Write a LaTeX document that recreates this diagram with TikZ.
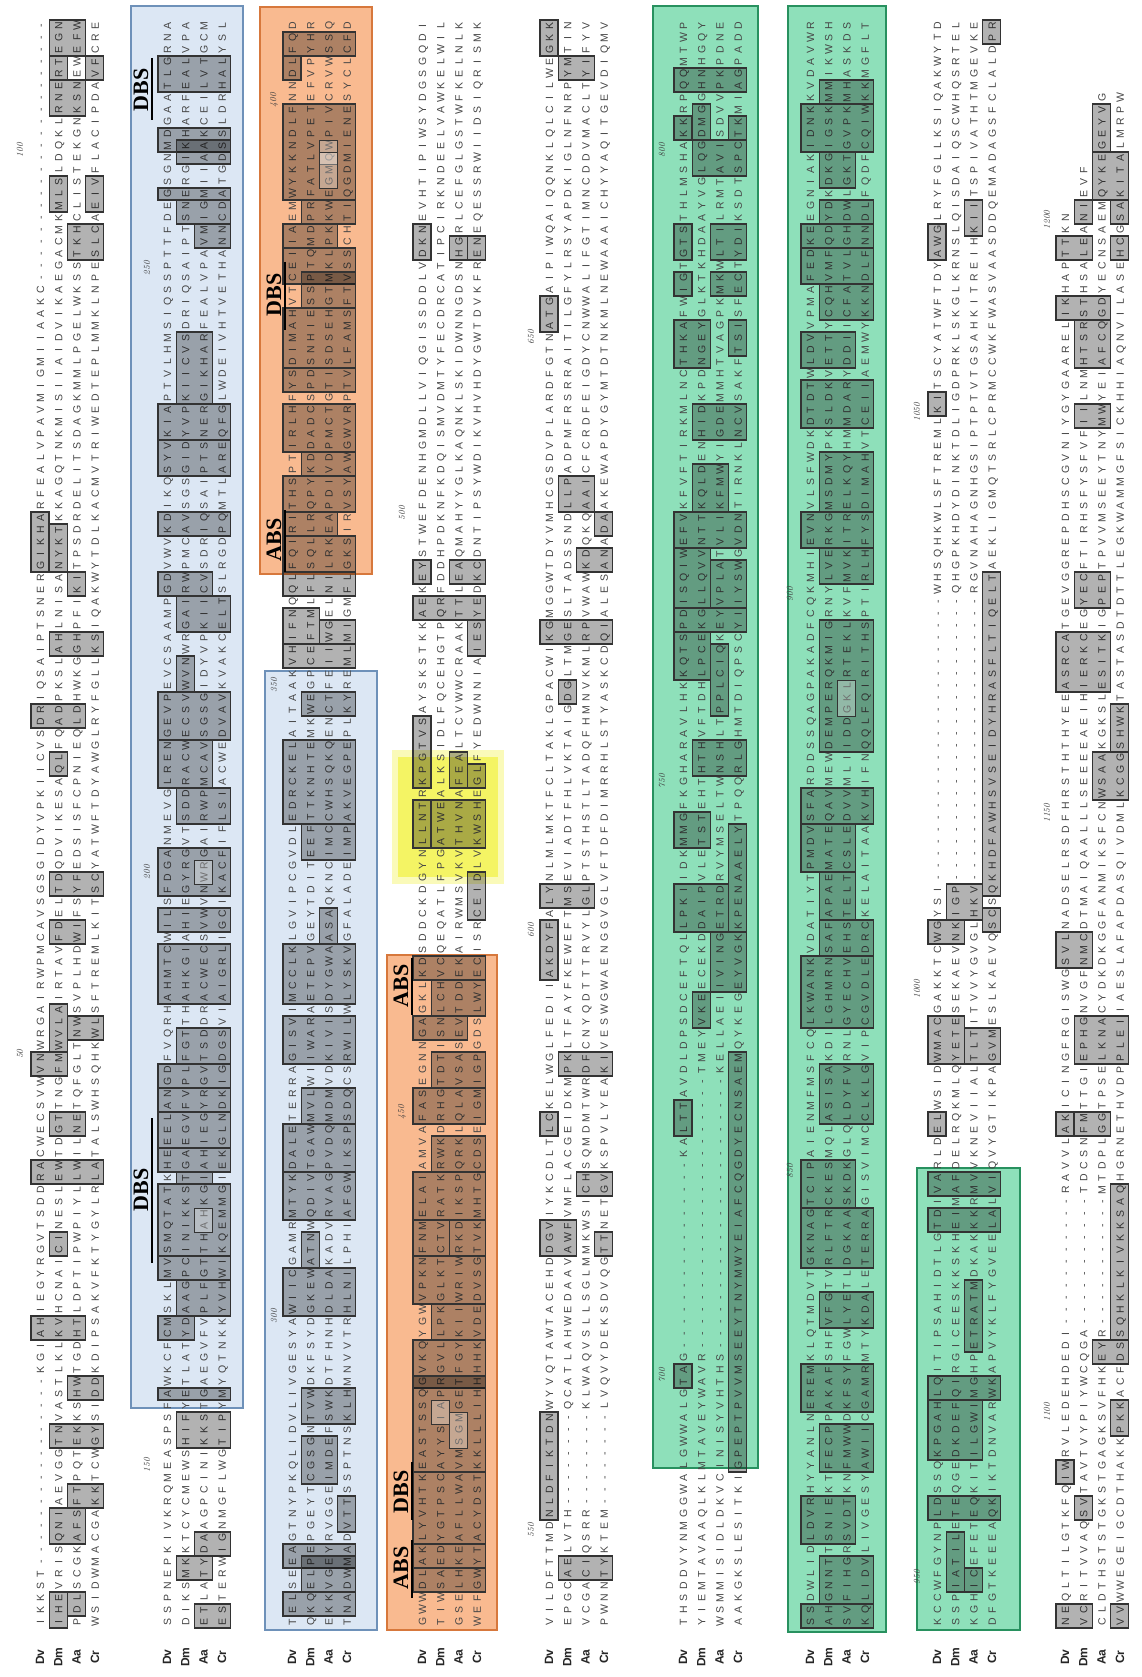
\documentclass[tikz,border=0pt]{standalone}
% NOTE: the residue letters of the alignment are unreadable at the resolution of the
% reference, so every sequence row below is PLACEHOLDER text (pseudo-random amino-acid
% letters from a fixed-seed generator), not a transcription of the real sequences.
% Layout, gaps, boxes, coloured regions, labels and position numbers follow the reference.
\usepackage{fontspec}
\newfontfamily\seqfont{Liberation Sans}
\newfontfamily\annfont{Liberation Serif}
\definecolor{bluefill}{RGB}{220,231,244}
\definecolor{blueline}{RGB}{110,145,185}
\definecolor{orgfill}{RGB}{249,186,144}
\definecolor{orgline}{RGB}{215,120,60}
\definecolor{grnfill}{RGB}{142,224,186}
\definecolor{grnline}{RGB}{40,145,95}
\definecolor{yelfill}{RGB}{244,244,100}
\definecolor{seqtext}{RGB}{70,70,70}

\newcount\lcg
\newcount\kk
\newif\ifgap
\def\nextrnd{\global\lcg=\numexpr\lcg*171-30269*((\lcg*171-15134)/30269)\relax}
\def\aaof#1{\ifcase#1 A\or C\or D\or E\or F\or G\or H\or I\or K\or L\or M\or N\or P\or Q\or R\or S\or T\or V\or W\or Y\or L\or A\or S\or E\or K\or G\or V\or I\or T\or D\or L\else L\fi}
% #1 name, #2 block x, #3 row, #4 seed, #5 last column, #6-#7 gap 1, #8-#9 gap 2
\newcommand\seqrow[9]{%
  \global\lcg=#4\relax
  \nextrnd\nextrnd
  \gdef\rowtxt{}%
  \kk=0
  \loop
    \nextrnd
    \edef\idx{\the\numexpr\lcg-30*((\lcg-15)/30)\relax}%
    \ifnum\kk>#5\relax
      \xdef\rowtxt{\rowtxt\hbox to 12pt{\hss}}%
    \else
      \gapfalse
      \ifnum\kk<#6\relax\else\ifnum\kk>#7\relax\else\gaptrue\fi\fi
      \ifnum\kk<#8\relax\else\ifnum\kk>#9\relax\else\gaptrue\fi\fi
      \ifgap
        \xdef\rowtxt{\rowtxt\hbox to 12pt{\hss-\hss}}%
      \else
        \xdef\rowtxt{\rowtxt\hbox to 12pt{\hss\aaof{\idx}\hss}}%
      \fi
    \fi
    \advance\kk by 1
  \ifnum\kk<134 \repeat
  \node[seq] (#1) at ({#2+18.3*#3},1628) {\rowtxt};%
}
% box: #2 block x, #3 first row, #4 last row, #5 top y, #6 bottom y (reference units)
\newcommand\bx[6][bxs]{%
  \pgfmathtruncatemacro\ktop{round((1622-1.0693*#5)/12)}%
  \pgfmathtruncatemacro\kbot{round((1622-1.0693*#6)/12)}%
  \draw[#1] ({#2+18.3*#3-9},{1616-12*\ktop}) rectangle ({#2+18.3*#4+9},{1628-12*\kbot});%
}
\newcommand\boxes[2]{\foreach \pa/\pb/\pc/\pd in {#2}{\bx{#1}{\pa}{\pb}{\pc}{\pd}}}
\newcommand\iboxes[2]{\foreach \pa/\pb/\pc/\pd in {#2}{\bx[ibxs]{#1}{\pa}{\pb}{\pc}{\pd}}}

\tikzset{
 seq/.style={rotate=90,anchor=west,inner sep=0pt,text height=8pt,text depth=0pt,font=\seqfont\fontsize{10.5}{13}\selectfont,text=seqtext},
 bxs/.style={draw=black!80,line width=1.1pt,fill=black,fill opacity=0.3},
 ibxs/.style={draw=black!80,line width=0.9pt,fill=white,fill opacity=0.3},
 lab/.style={rotate=90,inner sep=0pt,font=\seqfont\bfseries\fontsize{12}{12}\selectfont,text=black!85},
 num/.style={rotate=90,inner sep=0pt,font=\itshape\fontsize{9}{9}\selectfont,text=black!75},
 ann/.style={rotate=90,inner sep=0pt,font=\annfont\bfseries\fontsize{22}{22}\selectfont},
 annbar/.style={line width=2pt},
 region/.style={line width=1.3pt}
}

\begin{document}
\begin{tikzpicture}[x=1pt,y=-1pt]
\useasboundingbox (0,0) rectangle (1142,1677);
\fill[white] (0,0) rectangle (1142,1677);

% coloured regions
\filldraw[region,fill=bluefill,draw=blueline] (131,6) rectangle (243,1408);
\filldraw[region,fill=orgfill,draw=orgline] (260,7) rectangle (372,574);
\filldraw[region,fill=bluefill,draw=blueline] (265,671) rectangle (377,1630);
\filldraw[region,fill=orgfill,draw=orgline] (387,955) rectangle (497,1630);
\filldraw[region,fill=grnfill,draw=grnline] (653,6) rectangle (758,1468);
\filldraw[region,fill=grnfill,draw=grnline] (788,6) rectangle (886,1632);
\filldraw[region,fill=grnfill,draw=grnline] (917,1168) rectangle (1020,1630);
\fill[yelfill,opacity=0.45] (392,750) rectangle (504,884);
\fill[yelfill] (398,757) rectangle (498,877);

% sequence rows (placeholder letters, see note at top)
\seqrow{s1dv}{40}{0}{1201}{133}{5}{20}{112}{133}
\seqrow{s1dm}{40}{1}{3407}{133}{-1}{-1}{-1}{-1}
\seqrow{s1aa}{40}{2}{5113}{133}{-1}{-1}{-1}{-1}
\seqrow{s1cr}{40}{3}{7919}{133}{-1}{-1}{-1}{-1}
\seqrow{s2dv}{167}{0}{2203}{133}{-1}{-1}{-1}{-1}
\seqrow{s2dm}{167}{1}{4409}{133}{-1}{-1}{-1}{-1}
\seqrow{s2aa}{167}{2}{6607}{133}{-1}{-1}{-1}{-1}
\seqrow{s2cr}{167}{3}{8821}{133}{-1}{-1}{-1}{-1}
\seqrow{s3dv}{292}{0}{1303}{133}{-1}{-1}{-1}{-1}
\seqrow{s3dm}{292}{1}{2909}{133}{-1}{-1}{-1}{-1}
\seqrow{s3aa}{292}{2}{4703}{133}{-1}{-1}{-1}{-1}
\seqrow{s3cr}{292}{3}{9907}{133}{-1}{-1}{-1}{-1}
\seqrow{s4dv}{422}{0}{1409}{133}{-1}{-1}{-1}{-1}
\seqrow{s4dm}{422}{1}{3517}{133}{-1}{-1}{-1}{-1}
\seqrow{s4aa}{422}{2}{5711}{133}{-1}{-1}{-1}{-1}
\seqrow{s4cr}{422}{3}{10007}{133}{-1}{-1}{-1}{-1}
\seqrow{s5dv}{549}{0}{1511}{133}{-1}{-1}{-1}{-1}
\seqrow{s5dm}{549}{1}{3613}{133}{10}{17}{-1}{-1}
\seqrow{s5aa}{549}{2}{5813}{133}{10}{17}{-1}{-1}
\seqrow{s5cr}{549}{3}{10103}{133}{10}{17}{-1}{-1}
\seqrow{s6dv}{683}{0}{1613}{133}{23}{38}{-1}{-1}
\seqrow{s6dm}{683}{1}{3719}{133}{23}{45}{-1}{-1}
\seqrow{s6aa}{683}{2}{5923}{133}{23}{45}{-1}{-1}
\seqrow{s6cr}{683}{3}{10211}{133}{-1}{-1}{-1}{-1}
\seqrow{s7dv}{810}{0}{1709}{133}{-1}{-1}{-1}{-1}
\seqrow{s7dm}{810}{1}{3821}{133}{-1}{-1}{-1}{-1}
\seqrow{s7aa}{810}{2}{6011}{133}{-1}{-1}{-1}{-1}
\seqrow{s7cr}{810}{3}{10301}{133}{-1}{-1}{-1}{-1}
\seqrow{s8dv}{937}{0}{1811}{133}{62}{85}{-1}{-1}
\seqrow{s8dm}{937}{1}{3917}{133}{62}{85}{-1}{-1}
\seqrow{s8aa}{937}{2}{6113}{133}{62}{85}{-1}{-1}
\seqrow{s8cr}{937}{3}{10411}{133}{-1}{-1}{-1}{-1}
\seqrow{s9dv}{1065}{0}{1901}{117}{25}{35}{-1}{-1}
\seqrow{s9dm}{1065}{1}{4019}{121}{25}{35}{-1}{-1}
\seqrow{s9aa}{1065}{2}{6211}{127}{25}{35}{-1}{-1}
\seqrow{s9cr}{1065}{3}{10501}{127}{-1}{-1}{-1}{-1}

% conserved-residue boxes
\boxes{40}{1/2/25/42, 1/1/53/65, 3/3/53/65, 1/2/85/98, 1/1/175/198, 3/3/175/198, 2/3/220/232, 0/0/485/525, 1/1/497/525, 2/2/540/552, 1/3/592/605, 0/2/662/678, 1/1/705/720, 1/3/822/834, 1/2/868/880, 1/1/950/978, 2/3/958/970, 0/1/990/1002, 1/2/1040/1052, 0/3/1088/1100, 1/1/1160/1172, 0/2/1240/1252, 2/3/1292/1304, 1/3/1335/1347, 2/3/1389/1401, 1/2/1412/1434, 1/1/1490/1522, 2/2/1490/1503}
\boxes{167}{0/3/53/77, 0/3/120/136, 1/3/141/152, 0/3/176/187, 1/3/196/208, 2/3/213/224, 1/2/318/370, 0/3/380/410, 0/3/422/440, 0/3/480/500, 0/2/540/555, 1/3/560/590, 1/1/620/640, 0/3/658/690, 0/2/700/730, 1/3/745/760, 0/3/800/835, 0/3/850/870, 0/3/892/935, 1/3/962/990, 0/3/1001/1013, 0/3/1022/1033, 0/3/1045/1068, 0/3/1078/1090, 1/2/1098/1106, 0/3/1114/1169, 0/3/1178/1190, 1/3/1200/1225, 0/1/1235/1250, 0/3/1300/1309, 1/3/1323/1345, 2/3/1435/1447, 1/2/1457/1468, 2/3/1503/1513}
\boxes{292}{0/3/31/42, 0/0/53/65, 0/3/108/176, 1/3/196/208, 0/2/213/224, 0/3/233/255, 1/3/265/280, 0/3/290/340, 0/3/350/364, 0/3/378/412, 1/3/425/440, 0/3/450/470, 0/2/482/495, 0/3/507/530, 0/3/545/557, 0/1/570/600, 2/3/585/600, 0/3/612/624, 1/3/650/668, 0/3/700/760, 1/3/772/800, 2/2/860/875, 0/3/890/930, 0/3/955/990, 1/3/1020/1045, 0/3/1060/1090, 0/3/1100/1140, 1/1/1160/1175, 0/3/1190/1220, 1/3/1300/1330, 1/2/1350/1385, 3/3/1403/1424, 0/3/1445/1457, 1/3/1460/1480, 0/3/1490/1501}
\boxes{422}{0/0/220/232, 2/2/222/243, 3/3/230/243, 0/0/525/537, 2/3/525/540, 0/3/560/575, 3/3/590/605, 0/0/673/732, 2/2/711/732, 3/3/720/732, 0/0/750/788, 1/3/755/788, 3/3/823/860, 0/3/895/912, 1/3/922/940, 0/2/952/972, 1/3/985/1010, 0/3/1025/1050, 1/3/1065/1090, 0/3/1100/1135, 0/1/1150/1170, 2/3/1150/1170, 0/3/1185/1210, 1/3/1225/1245, 0/3/1260/1287, 0/3/1292/1367, 0/3/1379/1435, 0/3/1445/1456, 0/3/1468/1480}
\boxes{549}{0/0/22/42, 1/2/60/72, 0/0/288/300, 1/2/452/470, 3/3/485/500, 2/3/515/528, 0/3/583/600, 1/1/640/658, 0/2/832/845, 0/0/870/915, 1/3/985/998, 0/0/1040/1058, 2/3/1100/1112, 0/1/1150/1170, 3/3/1155/1168, 0/0/1321/1414, 1/3/1456/1470}
\boxes{683}{0/3/64/77, 1/1/98/120, 0/0/110/120, 3/3/109/120, 1/3/142/156, 0/0/220/234, 2/3/220/234, 0/0/264/274, 2/3/264/274, 0/1/300/340, 3/3/310/330, 1/3/380/410, 1/2/440/470, 0/3/490/510, 0/1/522/560, 2/3/530/560, 0/3/570/590, 0/1/600/625, 2/2/605/660, 1/3/700/720, 0/1/760/790, 3/3/780/870, 0/2/835/870, 2/3/880/920, 1/1/930/960, 3/3/995/1370, 0/0/1035/1060, 0/0/1282/1294}
\boxes{810}{1/3/75/87, 0/3/100/140, 1/2/152/166, 1/3/198/208, 0/3/213/224, 0/3/233/255, 1/3/272/290, 0/2/320/338, 0/3/362/398, 1/3/432/468, 0/3/480/510, 1/3/520/545, 1/3/590/700, 0/3/740/760, 0/2/775/810, 1/2/820/860, 1/3/870/890, 0/3/900/960, 1/3/1000/1050, 0/2/1085/1120, 0/3/1140/1180, 1/3/1210/1240, 0/3/1280/1310, 1/3/1340/1370, 0/2/1400/1440, 1/3/1460/1490, 0/3/1502/1518}
\boxes{937}{3/3/20/35, 2/2/195/210, 0/0/220/235, 0/0/368/380, 3/3/545/830, 1/2/835/850, 0/1/862/874, 3/3/855/870, 0/1/960/990, 2/3/965/985, 0/0/1045/1057, 0/3/1101/1113, 0/3/1134/1146, 2/2/1200/1256, 0/3/1291/1309, 0/2/1318/1365, 0/3/1403/1412, 1/1/1434/1479, 2/2/1467/1479}
\boxes{1065}{2/2/98/131, 2/3/152/176, 1/1/198/209, 3/3/198/209, 0/1/231/241, 3/3/231/241, 0/2/287/297, 1/2/309/343, 1/2/380/398, 1/2/540/560, 0/2/600/640, 3/3/660/700, 2/3/710/745, 0/1/880/900, 1/3/960/990, 0/0/1040/1058, 1/2/1045/1057, 3/3/1111/1247, 2/3/1255/1265, 3/3/1320/1332, 0/0/1370/1382, 1/1/1400/1420, 0/1/1501/1513, 3/3/1501/1513}
\iboxes{167}{2/2/815/825, 2/2/1130/1144}
\iboxes{292}{2/2/131/143, 2/2/152/165}
\iboxes{422}{1/1/1311/1331, 2/2/1331/1345}
\iboxes{810}{2/2/640/660}

% ABS / DBS annotations
\node[ann] (dbs1) at (141,90) {DBS};
\draw[annbar] (152,58) -- (152,120);
\node[ann] (dbs2) at (141,1190) {DBS};
\draw[annbar] (152,1118) -- (152,1263);
\node[ann] (dbs3) at (274,295) {DBS};
\draw[annbar] (285,262) -- (285,330);
\node[ann] (abs1) at (274,540) {ABS};
\draw[annbar] (285,510) -- (285,572);
\node[ann] (abs2) at (401,986) {ABS};
\draw[annbar] (412,958) -- (412,1015);
\node[ann] (dbs4) at (401,1492) {DBS};
\draw[annbar] (412,1462) -- (412,1520);
\node[ann] (abs3) at (401,1568) {ABS};
\draw[annbar] (412,1540) -- (412,1598);

% row labels
\foreach \B/\n in {40/1,167/2,292/3,422/4,549/5,683/6,810/7,937/8,1065/9}{
  \node[lab] (lab\n dv) at (\B,1657) {Dv};
  \node[lab] (lab\n dm) at ({\B+18.3},1657) {Dm};
  \node[lab] (lab\n aa) at ({\B+36.6},1657) {Aa};
  \node[lab] (lab\n cr) at ({\B+54.9},1657) {Cr};
}

% position numbers
\foreach \xx/\yy/\t in {20/1054/50, 20/150/100, 147/1465/150, 147/872/200, 147/268/250, 274/1316/300, 274/685/350, 274/100/400, 402/1112/450, 402/513/500, 531/1530/550, 531/930/600, 531/337/650, 662/1375/700, 662/781/750, 662/150/800, 790/1171/850, 790/594/900, 917/1577/950, 917/989/1000, 917/412/1050, 1047/1412/1100, 1047/813/1150, 1047/220/1200}{
  \node[num] (num\t) at (\xx,\yy) {\t};
}
\end{tikzpicture}
\end{document}
